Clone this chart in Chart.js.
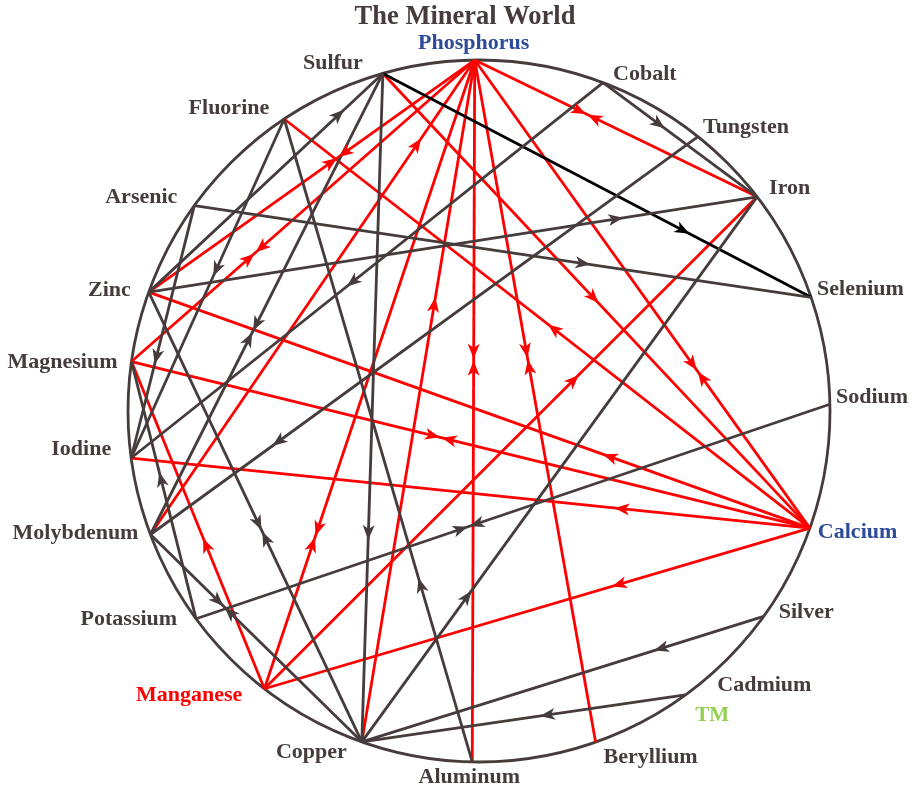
<!DOCTYPE html>
<html>
<head>
<meta charset="utf-8">
<title>The Mineral World</title>
<script src="https://cdn.jsdelivr.net/npm/chart.js@4.4.1/dist/chart.umd.min.js"></script>
<style>
  html, body { margin: 0; padding: 0; background: #fff; }
  #wrap { width: 922px; height: 789px; }
</style>
</head>
<body>
<div id="wrap"><canvas id="mineralChart" width="922" height="789"></canvas></div>
<script>
// ==========================================
// DATA
// ==========================================

// minerals around the ring and their angle (degrees, counter-clockwise from east)
const minerals = ['Phosphorus', 'Sulfur', 'Fluorine', 'Arsenic', 'Zinc', 'Magnesium', 'Iodine',
    'Molybdenum', 'Potassium', 'Manganese', 'Copper', 'Aluminum', 'Beryllium', 'Cadmium',
    'Silver', 'Calcium', 'Sodium', 'Selenium', 'Iron', 'Tungsten', 'Cobalt'];
const ringAngles = [90.7, 105.9, 123.7, 144.2, 160.2, 171.9, 187.7,
    200.6, 216.3, 232.3, 250.5, 268.9, 289.4, 306.0,
    324.2, 340.5, 1.1, 18.9, 37.6, 51.4, 69.3];

// links: [from, to, arrow position along from->to, both directions]
const redLinks = [
    ['Phosphorus', 'Zinc', 0.42, true],
    ['Phosphorus', 'Magnesium', 0.64, true],
    ['Molybdenum', 'Phosphorus', 0.835, false],
    ['Phosphorus', 'Manganese', 0.758, true],
    ['Copper', 'Phosphorus', 0.652, false],
    ['Phosphorus', 'Aluminum', 0.427, true],
    ['Phosphorus', 'Beryllium', 0.438, true],
    ['Phosphorus', 'Calcium', 0.664, true],
    ['Phosphorus', 'Iron', 0.397, true],
    ['Sulfur', 'Calcium', 0.505, false],
    ['Calcium', 'Fluorine', 0.498, false],
    ['Calcium', 'Zinc', 0.313, false],
    ['Magnesium', 'Calcium', 0.456, true],
    ['Calcium', 'Iodine', 0.288, false],
    ['Manganese', 'Magnesium', 0.46, false],
    ['Manganese', 'Iron', 0.638, false],
    ['Calcium', 'Manganese', 0.363, false]
];
const darkLinks = [
    ['Cobalt', 'Iron', 0.40, false],
    ['Cobalt', 'Iodine', 0.543, false],
    ['Tungsten', 'Molybdenum', 0.777, false],
    ['Zinc', 'Iron', 0.78, false],
    ['Copper', 'Iron', 0.277, false],
    ['Arsenic', 'Selenium', 0.642, false],
    ['Arsenic', 'Iodine', 0.627, false],
    ['Fluorine', 'Iodine', 0.463, false],
    ['Aluminum', 'Fluorine', 0.286, false],
    ['Zinc', 'Sulfur', 0.834, false],
    ['Sulfur', 'Copper', 0.698, false],
    ['Sulfur', 'Molybdenum', 0.56, true],
    ['Zinc', 'Copper', 0.531, true],
    ['Molybdenum', 'Copper', 0.348, true],
    ['Potassium', 'Sodium', 0.43, true],
    ['Potassium', 'Magnesium', 0.57, false],
    ['Silver', 'Copper', 0.273, false],
    ['Cadmium', 'Copper', 0.449, false]
];
const blackLinks = [
    ['Sulfur', 'Selenium', 0.716, false]
];

// ==========================================
// STYLE / LAYOUT
// ==========================================

const DARK = '#463c3c';
const RED = '#ff0000';
const BLACK = '#000000';
const LABEL_FONT = 'bold 22px "Liberation Serif", "Times New Roman", serif';

const labelColors = { Phosphorus: '#2d4b9b', Calcium: '#2d4b9b', Manganese: '#ff0000' };

// label placement relative to its node: [dx, dy, align]
const labelPlace = {
    Phosphorus: [-1, -17, 'center'], Sulfur: [-20, -10, 'right'], Fluorine: [-15, -11, 'right'],
    Arsenic: [-17, -8, 'right'], Zinc: [-18, -2, 'right'], Magnesium: [-14, 1, 'right'],
    Iodine: [-20, -9, 'right'], Molybdenum: [-12, -1, 'right'], Potassium: [-19, 1, 'right'],
    Manganese: [-22, 7, 'right'], Copper: [-15, 10, 'right'], Aluminum: [-3, 15, 'center'],
    Beryllium: [8, 15, 'left'], Cadmium: [32, -10, 'left'], Silver: [15, -4, 'left'],
    Calcium: [8, 4, 'left'], Sodium: [6, -7, 'left'], Selenium: [6, -8, 'left'],
    Iron: [12, -9, 'left'], Tungsten: [5, -9, 'left'], Cobalt: [10, -8, 'left']
};

function nodePoint(name) {
    const a = ringAngles[minerals.indexOf(name)] * Math.PI / 180;
    return { x: Math.cos(a), y: Math.sin(a) };
}

// build one line dataset per link
const allLinks = [];
darkLinks.forEach(l => allLinks.push({ link: l, color: DARK }));
blackLinks.forEach(l => allLinks.push({ link: l, color: BLACK }));
redLinks.forEach(l => allLinks.push({ link: l, color: RED }));

const datasets = allLinks.map(item => ({
    data: [nodePoint(item.link[0]), nodePoint(item.link[1])],
    showLine: true,
    borderColor: item.color,
    backgroundColor: item.color,
    borderWidth: 2.8,
    pointRadius: 0,
    clip: false
}));

// ==========================================
// PLUGINS
// ==========================================

function drawArrow(ctx, tx, ty, ux, uy, color) {
    const len = 15, half = 6, notch = 4;
    const bx = tx - ux * len, by = ty - uy * len;
    const nx = -uy, ny = ux;
    ctx.beginPath();
    ctx.moveTo(tx, ty);
    ctx.lineTo(bx + nx * half, by + ny * half);
    ctx.lineTo(tx - ux * (len - notch), ty - uy * (len - notch));
    ctx.lineTo(bx - nx * half, by - ny * half);
    ctx.closePath();
    ctx.fillStyle = color;
    ctx.fill();
}

const ringPlugin = {
    id: 'ring',
    beforeDatasetsDraw(chart) {
        const { ctx, scales } = chart;
        const cx = scales.x.getPixelForValue(0);
        const cy = scales.y.getPixelForValue(0);
        const r = scales.x.getPixelForValue(1) - cx;
        ctx.save();
        ctx.beginPath();
        ctx.arc(cx, cy, r, 0, Math.PI * 2);
        ctx.strokeStyle = DARK;
        ctx.lineWidth = 2.8;
        ctx.stroke();
        ctx.restore();
    },
    afterDatasetsDraw(chart) {
        const { ctx, scales } = chart;
        const px = p => ({ x: scales.x.getPixelForValue(p.x), y: scales.y.getPixelForValue(p.y) });
        ctx.save();
        allLinks.forEach(item => {
            const [from, to, at, both] = item.link;
            const a = px(nodePoint(from));
            const b = px(nodePoint(to));
            const dx = b.x - a.x, dy = b.y - a.y;
            const d = Math.hypot(dx, dy);
            const ux = dx / d, uy = dy / d;
            const mx = a.x + dx * at, my = a.y + dy * at;
            if (both) {
                drawArrow(ctx, mx - ux, my - uy, ux, uy, item.color);
                drawArrow(ctx, mx + ux, my + uy, -ux, -uy, item.color);
            } else {
                drawArrow(ctx, mx, my, ux, uy, item.color);
            }
        });
        ctx.restore();
    },
    afterDraw(chart) {
        const { ctx, scales } = chart;
        ctx.save();
        ctx.textBaseline = 'middle';
        ctx.font = LABEL_FONT;
        minerals.forEach(name => {
            const p = nodePoint(name);
            const x = scales.x.getPixelForValue(p.x);
            const y = scales.y.getPixelForValue(p.y);
            const [ox, oy, align] = labelPlace[name];
            ctx.textAlign = align;
            ctx.fillStyle = labelColors[name] || DARK;
            ctx.fillText(name, x + ox, y + oy);
        });
        // TM note under Cadmium
        const cd = nodePoint('Cadmium');
        ctx.textAlign = 'left';
        ctx.fillStyle = '#92d050';
        ctx.font = 'bold 21px "Liberation Serif", "Times New Roman", serif';
        ctx.fillText('TM', scales.x.getPixelForValue(cd.x) + 10, scales.y.getPixelForValue(cd.y) + 21);
        // title
        ctx.textAlign = 'center';
        ctx.fillStyle = DARK;
        ctx.font = 'bold 26.5px "Liberation Serif", "Times New Roman", serif';
        ctx.fillText('The Mineral World', 465, 17);
        ctx.restore();
    }
};

// ==========================================
// CHART
// ==========================================

new Chart(document.getElementById('mineralChart'), {
    type: 'scatter',
    data: { datasets: datasets },
    options: {
        responsive: false,
        animation: false,
        layout: { padding: { left: 128, right: 92, top: 60, bottom: 27 } },
        plugins: {
            legend: { display: false },
            title: { display: false },
            tooltip: { enabled: false }
        },
        scales: {
            x: { type: 'linear', min: -1, max: 1, display: false },
            y: { type: 'linear', min: -1, max: 1, display: false }
        }
    },
    plugins: [ringPlugin]
});
</script>
</body>
</html>
